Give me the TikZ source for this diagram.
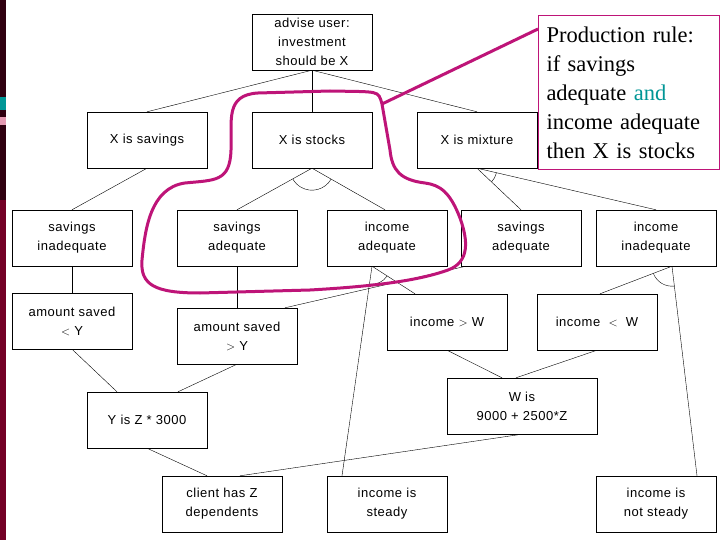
\documentclass[tikz,border=0pt]{standalone}
\usepackage{fontspec}
\setmainfont{Liberation Sans}[LetterSpace=4]
\newfontfamily\callfont{Liberation Serif}
\usetikzlibrary{calc}
\definecolor{loopc}{RGB}{190,20,120}
\definecolor{tealc}{RGB}{0,150,150}
\begin{document}
\begin{tikzpicture}[x=1pt,y=-1pt,
  box/.style={draw,thin,minimum width=120pt,minimum height=56pt,align=center,font=\fontsize{13}{19}\selectfont,inner sep=1pt},
  ln/.style={thin}]
\useasboundingbox (0,0) rectangle (720,540);
\fill[white] (0,0) rectangle (720,540);
\fill[black!75!purple] (0,0) rectangle (6,540);
\fill[purple!60!black] (0,200) rectangle (6,540);
\fill[tealc] (0,97) rectangle (6,110);
\fill[purple!40] (0,117) rectangle (6,125);
\node[box] (adv) at (312,42) {advise user:\\investment\\should be X};
\node[box] (xsav) at (147,140) {X is savings};
\node[box] (xsto) at (312,140) {X is stocks};
\node[box] (xmix) at (477,140) {X is mixture};
\node[box] (sina) at (72,238) {savings\\inadequate};
\node[box] (sad1) at (237,238) {savings\\adequate};
\node[box] (iad) at (387,238) {income\\adequate};
\node[box] (sad2) at (521,238) {savings\\adequate};
\node[box] (iina) at (656,238) {income\\inadequate};
\node[box] (asl) at (72,321) {amount saved\\$<$ Y};
\node[box] (asg) at (237,336) {amount saved\\$>$ Y};
\node[box] (igw) at (447,322) {income $>$ W};
\node[box] (ilw) at (597,322) {income \ $<$ \ W};
\node[box,minimum width=150pt] (wis) at (522,406) {W is\\9000 + 2500*Z};
\node[box] (yis) at (147,420) {Y is Z * 3000};
\node[box] (cli) at (222,504) {client has Z\\dependents};
\node[box] (ist) at (387,504) {income is\\steady};
\node[box] (ins) at (656,504) {income is\\not steady};
% connectors
\draw[ln] (adv.south) -- (xsav.north);
\draw[ln] (adv.south) -- (xsto.north);
\draw[ln] (adv.south) -- (xmix.north);
\draw[ln] (xsav.south) -- (sina.north);
\draw[ln] (xsto.south) -- (sad1.north);
\draw[ln] (xsto.south) -- ([xshift=-2pt]iad.north);
\draw[ln] (xmix.south) -- (sad2.north);
\draw[ln] (xmix.south) -- (iina.north);
\draw[ln] (sina.south) -- (asl.north);
\draw[ln] (sad1.south) -- (asg.north);
\draw[ln] ([xshift=-15pt]iad.south) -- ([xshift=-32pt]igw.north);
\draw[ln] ([xshift=-15pt]iad.south) -- ([xshift=-45pt]ist.north);
\draw[ln] ([xshift=-55pt]sad2.south) -- ([xshift=48pt]asg.north);
\draw[ln] ([xshift=16pt]iina.south) -- ([xshift=3pt]ilw.north);
\draw[ln] ([xshift=16pt]iina.south) -- ([xshift=41pt]ins.north);
\draw[ln] (igw.south) -- ([xshift=-20pt]wis.north);
\draw[ln] (ilw.south) -- ([xshift=-6pt]wis.north);
\draw[ln] (asl.south) -- ([xshift=-30pt]yis.north);
\draw[ln] (asg.south) -- ([xshift=31pt]yis.north);
\draw[ln] (yis.south) -- ([xshift=-15pt]cli.north);
\draw[ln] (wis.south) -- ([xshift=18pt]cli.north);
% and-arcs
\draw[ln] ($(xsto.south)+(30:22)$) arc[start angle=30,end angle=150,radius=22];
\draw[ln] ($(xmix.south)+(13:20)$) arc[start angle=13,end angle=44,radius=20];
\draw[ln] ($([xshift=-15pt]iad.south)+(33:18)$) arc[start angle=33,end angle=98,radius=18];
\draw[ln] ($([xshift=16pt]iina.south)+(83:20)$) arc[start angle=83,end angle=159,radius=20];
% callout
\node[draw=loopc,line width=1pt,fill=white,minimum width=177pt,minimum height=154pt,align=left,anchor=north west,inner xsep=8pt,inner ysep=6pt,font=\callfont\fontsize{22.5}{29}\selectfont,text width=165pt] (call) at (538,15) {Production rule:\\if savings\\adequate {\color{tealc}and}\\income adequate\\then X is stocks};
\coordinate (lp) at (382,104);
\draw[loopc,line width=3pt] ([yshift=-14pt]call.north west) -- (lp);
\draw[loopc,line width=3pt,line join=round] (lp)
  .. controls (378,90) and (380,92) .. (330,91)
  -- (258,93) .. controls (225,95) and (232,120) .. (231,150)
  .. controls (230,182) and (215,180) .. (185,183)
  .. controls (150,188) and (145,230) .. (142,260)
  .. controls (140,285) and (155,293) .. (200,293)
  -- (310,290) .. controls (380,286) and (420,280) .. (448,270)
  .. controls (470,262) and (468,240) .. (460,218)
  .. controls (450,192) and (440,185) .. (425,183)
  .. controls (400,180) and (392,170) .. (390,150)
  -- (lp);
\end{tikzpicture}
\end{document}
